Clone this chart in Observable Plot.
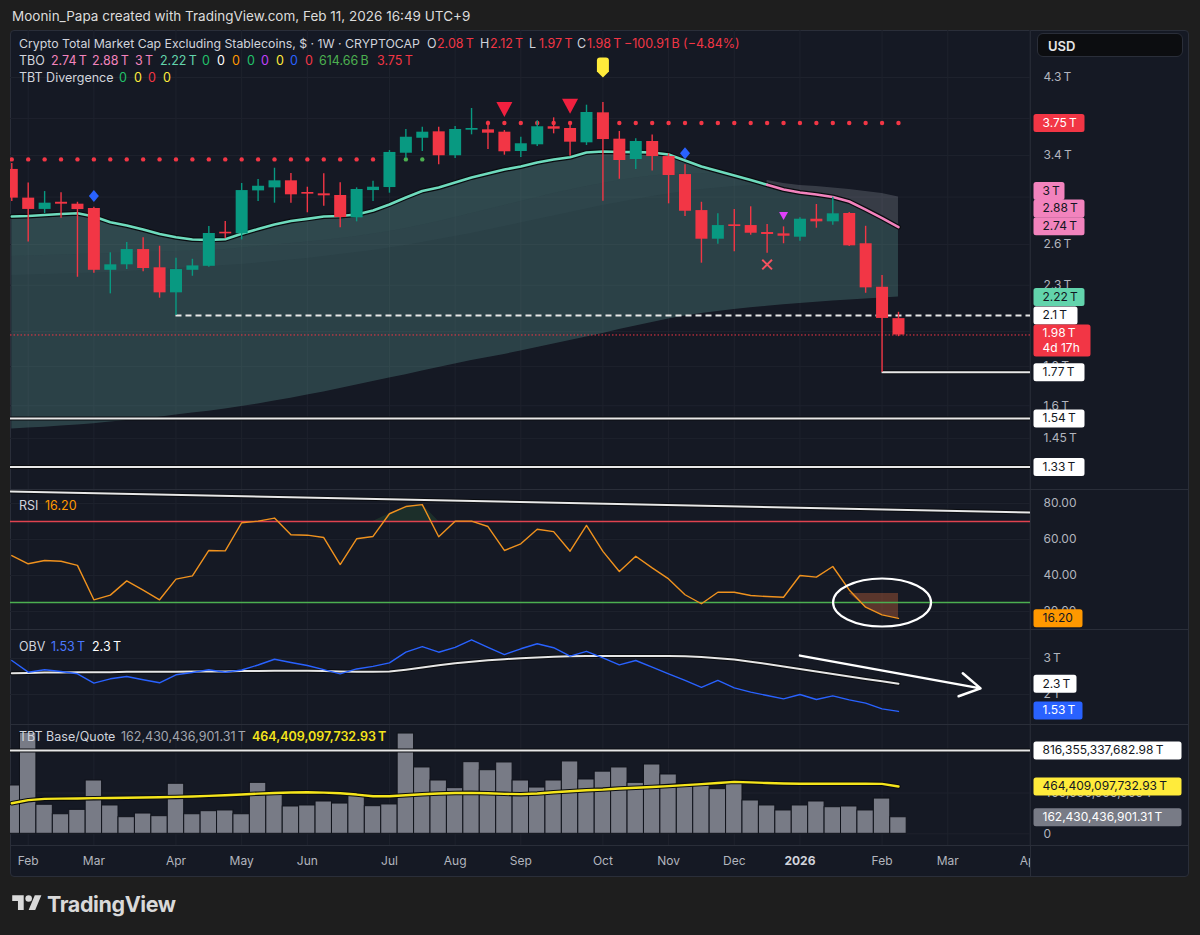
<!DOCTYPE html>
<html>
<head>
<meta charset="utf-8">
<script src="https://cdn.jsdelivr.net/npm/d3@7"></script>
<script src="https://cdn.jsdelivr.net/npm/@observablehq/plot@0.6"></script>
<style>
  html, body { margin:0; padding:0; background:#1e1e1e; }
  #root { position:relative; width:1200px; height:935px; overflow:hidden; font-family: Inter, "Noto Sans", "DejaVu Sans", sans-serif; }
  .abs { position:absolute; white-space:nowrap; }
</style>
</head>
<body>
<div id="root">
  <div class="abs" style="left:12px;top:8px;line-height:16px;font-size:13.5px;color:#dcdcdc;">Moonin_Papa created with TradingView.com, Feb 11, 2026 16:49 UTC+9</div>
  <div class="abs" style="left:10px;top:30px;width:1179px;height:847px;background:#151924;border:1px solid #2a2e39;box-sizing:border-box;border-radius:4px;"></div>
  <div class="abs" style="left:11px;top:489px;width:1177px;height:1px;background:#2a2e39;"></div>
  <div class="abs" style="left:11px;top:629px;width:1177px;height:1px;background:#2a2e39;"></div>
  <div class="abs" style="left:11px;top:724px;width:1177px;height:1px;background:#2a2e39;"></div>
  <div class="abs" style="left:11px;top:845px;width:1177px;height:1px;background:#2a2e39;"></div>
  <div class="abs" style="left:1030px;top:31px;width:1px;height:845px;background:#2a2e39;"></div>
</div>
<script>
// ---------------- DATA ----------------
const weeks = ["2025-01-27","2025-02-03","2025-02-10","2025-02-17","2025-02-24","2025-03-03","2025-03-10","2025-03-17","2025-03-24","2025-03-31","2025-04-07","2025-04-14","2025-04-21","2025-04-28","2025-05-05","2025-05-12","2025-05-19","2025-05-26","2025-06-02","2025-06-09","2025-06-16","2025-06-23","2025-06-30","2025-07-07","2025-07-14","2025-07-21","2025-07-28","2025-08-04","2025-08-11","2025-08-18","2025-08-25","2025-09-01","2025-09-08","2025-09-15","2025-09-22","2025-09-29","2025-10-06","2025-10-13","2025-10-20","2025-10-27","2025-11-03","2025-11-10","2025-11-17","2025-11-24","2025-12-01","2025-12-08","2025-12-15","2025-12-22","2025-12-29","2026-01-05","2026-01-12","2026-01-19","2026-01-26","2026-02-02","2026-02-09"];
// OHLC in trillions USD
const open  = [3.26,2.99,2.89,2.953,2.936,2.898,2.406,2.446,2.561,2.424,2.248,2.406,2.435,2.698,2.685,3.056,3.084,3.150,3.041,3.029,3.014,2.818,3.059,3.087,3.423,3.581,3.651,3.397,3.669,3.673,3.647,3.441,3.511,3.707,3.688,3.532,3.866,3.571,3.359,3.546,3.389,3.210,2.880,2.642,2.759,2.753,2.696,2.685,2.658,2.806,2.784,2.855,2.606,2.286,2.08];
const high  = [3.32,3.13,3.05,3.04,2.953,2.909,2.536,2.616,2.653,2.587,2.495,2.487,2.745,2.787,3.125,3.163,3.272,3.220,3.090,3.217,3.131,3.084,3.146,3.451,3.677,3.702,3.702,3.710,3.917,3.770,3.665,3.592,3.774,3.808,3.755,3.956,3.988,3.655,3.575,3.616,3.417,3.306,2.953,2.852,2.889,2.913,2.762,2.742,2.818,2.933,2.998,2.863,2.747,2.368,2.12];
const low   = [2.96,2.62,2.855,2.814,2.356,2.385,2.241,2.411,2.395,2.212,2.10,2.363,2.428,2.645,2.637,2.960,2.945,2.945,2.861,2.918,2.734,2.784,2.960,3.035,3.372,3.441,3.306,3.369,3.618,3.462,3.403,3.379,3.493,3.629,3.392,3.504,2.962,3.165,3.259,3.244,2.939,2.829,2.458,2.602,2.544,2.674,2.533,2.606,2.626,2.731,2.756,2.585,2.245,1.77,1.97];
const close = [2.99,2.89,2.945,2.936,2.889,2.406,2.446,2.561,2.419,2.248,2.411,2.438,2.688,2.685,3.059,3.099,3.150,3.020,3.026,3.011,2.820,3.069,3.090,3.431,3.592,3.647,3.397,3.677,3.688,3.636,3.438,3.522,3.707,3.680,3.539,3.870,3.567,3.349,3.546,3.389,3.201,2.874,2.642,2.753,2.745,2.690,2.680,2.666,2.806,2.784,2.852,2.590,2.282,2.081,1.98];
// TBO bands (trillions)
const tboFast = [2.829,2.833,2.842,2.850,2.857,2.829,2.781,2.753,2.720,2.684,2.658,2.640,2.637,2.642,2.685,2.724,2.762,2.791,2.809,2.829,2.833,2.846,2.880,2.933,2.996,3.055,3.087,3.134,3.182,3.220,3.259,3.289,3.329,3.359,3.382,3.431,3.441,3.436,3.434,3.431,3.410,3.349,3.289,3.245,3.201,3.158,3.112,3.069,3.041,3.023,3.000,2.960,2.889,2.816,2.74];
const tboMid  = [2.508,2.511,2.515,2.519,2.523,2.527,2.530,2.534,2.538,2.542,2.546,2.550,2.554,2.561,2.573,2.584,2.596,2.608,2.620,2.632,2.648,2.664,2.684,2.704,2.729,2.757,2.786,2.820,2.855,2.889,2.924,2.960,2.996,3.032,3.064,3.097,3.125,3.153,3.177,3.196,3.210,3.220,3.220,3.210,3.196,3.177,3.153,3.125,3.097,3.069,3.041,3.014,2.978,2.933,2.88];
const tboSlow = [2.368,2.372,2.375,2.379,2.382,2.386,2.390,2.397,2.404,2.411,2.419,2.426,2.433,2.441,2.448,2.459,2.470,2.481,2.493,2.508,2.523,2.538,2.554,2.573,2.592,2.616,2.640,2.664,2.688,2.716,2.745,2.774,2.803,2.833,2.863,2.894,2.924,2.951,2.978,3.005,3.027,3.050,3.069,3.083,3.097,3.106,3.111,3.111,3.106,3.097,3.083,3.069,3.050,3.032,3.00];
const tboBase = [1.492,1.496,1.500,1.505,1.510,1.516,1.523,1.530,1.537,1.546,1.556,1.565,1.574,1.584,1.596,1.608,1.623,1.637,1.652,1.667,1.685,1.703,1.721,1.739,1.757,1.776,1.795,1.814,1.833,1.850,1.867,1.887,1.907,1.927,1.948,1.968,1.989,2.013,2.034,2.056,2.077,2.096,2.112,2.125,2.138,2.149,2.159,2.168,2.177,2.185,2.193,2.200,2.207,2.214,2.22];
// RSI
const rsi = [51.1,46.5,48.3,47.9,45.6,26.5,29.1,37.0,31.9,26.5,38.0,39.8,53.9,53.7,69.3,70.2,71.9,62.6,62.4,61.1,46.1,60.4,61.7,74.3,78.3,79.4,61.5,70.2,70.2,67.2,53.9,57.6,65.7,64.4,53.5,67.8,53.4,42.2,50.7,44.2,38.1,29.3,24.3,30.7,30.7,28.9,28.3,27.9,40.0,39.1,45.0,32.0,22.4,18.1,16.2];
// OBV (trillions) and its moving average
const obv   = [2.944,2.62,2.686,2.64,2.575,2.315,2.436,2.50,2.41,2.325,2.547,2.61,2.686,2.62,2.68,2.82,2.98,2.89,2.805,2.69,2.575,2.71,2.78,2.88,3.175,3.33,3.175,3.31,3.52,3.31,3.11,3.27,3.41,3.30,3.065,3.20,3.02,2.825,2.944,2.76,2.575,2.39,2.20,2.39,2.186,2.065,1.972,1.88,2.0,1.86,1.963,1.85,1.76,1.60,1.53];
const obvMA = [2.59,2.60,2.61,2.61,2.62,2.62,2.62,2.63,2.63,2.63,2.63,2.64,2.64,2.64,2.65,2.65,2.66,2.66,2.66,2.65,2.64,2.63,2.63,2.64,2.69,2.75,2.81,2.87,2.91,2.95,2.98,3.01,3.03,3.05,3.06,3.07,3.07,3.07,3.07,3.07,3.07,3.06,3.04,3.01,2.97,2.91,2.85,2.78,2.71,2.64,2.57,2.50,2.43,2.37,2.30];
// TBT Base/Quote volume, in billions of T, and its moving average
const vol   = [474,991,285,192,235,523,278,163,199,173,491,192,222,229,192,500,392,268,278,317,297,376,271,288,984,651,523,448,703,624,700,523,454,523,710,533,610,651,500,680,582,487,491,438,494,327,278,229,278,317,261,268,229,346,162.43043690131];
const volMA = [300,330,343,345,347,350,352,354,356,359,362,366,372,378,386,394,400,405,408,404,398,385,368,368,378,388,395,400,402,398,392,389,396,408,418,428,434,444,452,460,468,478,488,498,510,505,498,493,491,491,491,491,491,490,464.40909773293];
const volRefLine = 816.35533768298;
// axis ticks (grid) and the tick labels that show
const monthTicks = [["2025-02-03","Feb"],["2025-03-03","Mar"],["2025-04-07","Apr"],["2025-05-05","May"],["2025-06-02","Jun"],["2025-07-07","Jul"],["2025-08-04","Aug"],["2025-09-01","Sep"],["2025-10-06","Oct"],["2025-11-03","Nov"],["2025-12-01","Dec"],["2025-12-29","2026"],["2026-02-02","Feb"],["2026-03-02","Mar"],["2026-04-06","Apr"]];
const priceGrid = [4.3,3.8,3.4,3,2.6,2.3,2,1.8,1.6,1.45];
const priceTickLabels = [4.3,3.4,2.6,2.3,1.8,1.6,1.45];
const rsiTicks = [80,60,40,20];
const obvTicks = [3,2];
const volGrid = [0,400,800];
const volTickLabels = [0,400];
// levels & annotations
const tboUpper = {v:3.75, from:"2025-08-18", to:"2026-02-09"};
const tboLower = {v:3.36, from:"2025-01-27", to:"2025-07-21"};
const lowLevel = {v:2.10, from:"2025-04-07"};
const wickLevel = {v:1.77, from:"2026-02-02"};
const supports = [1.54, 1.33];
const lastPrice = 1.98;
const diamonds = [["2025-03-03",3.01],["2025-11-10",3.423]];
const sellTris = [["2025-08-25",3.905],["2025-09-22",3.944]];
const topPin = [["2025-10-06",4.43]];
const purpleTri = [["2025-12-22",2.833]];
const crossMarks = [["2025-12-15",2.448]];
const rsiTrend = [{from:["2025-01-20",86.8], to:["2026-04-13",74.8]}];
const rsiCircle = [["2026-02-02",25]];
const obvArrow = [{from:["2025-12-29",3.08], to:["2026-03-16",2.17]}];

// ---------------- SETUP ----------------
const FONT = 'Inter, "Noto Sans", sans-serif';
const GREEN="#089981", RED="#f23645", GRID="#1e222d", AX="#b2b5be", DARK="#131722";
const PINK="#f283bd", TEAL="#6edbbd";
const T0 = Date.parse("2025-02-03T00:00:00Z");
const wk = s => Math.round((Date.parse(s+"T00:00:00Z") - T0) / 6048e5);
const I = weeks.map(wk);
const bars = weeks.map((w,k)=>({i:I[k], o:open[k], h:high[k], l:low[k], c:close[k]}));
const tbo = weeks.map((w,k)=>({i:I[k], fast:tboFast[k], mid:tboMid[k], slow:tboSlow[k], base:tboBase[k]}));
const rsiData = weeks.map((w,k)=>({i:I[k], v:rsi[k]}));
const obvData = weeks.map((w,k)=>({i:I[k], v:obv[k], ma:obvMA[k]}));
const volData = weeks.map((w,k)=>({i:I[k], v:vol[k], ma:volMA[k]}));
const monthIdx = monthTicks.map(d=>wk(d[0]));
const pts = arr => arr.map(([d,v])=>({i:wk(d), v}));
const col = d => d.c >= d.o ? GREEN : RED;
const dotsFor = lvl => bars.filter(b=>b.i>=wk(lvl.from) && b.i<=wk(lvl.to)).map(b=>({i:b.i, v:lvl.v, up:b.c>lvl.v}));

const xDomain = [-1.078, 61.04];
const W = 1177, MR = 157;
function base(h){ return {width:W, height:h, marginLeft:0, marginRight:MR, marginTop:0, marginBottom:0,
  style:{background:"transparent", fontFamily:FONT, fontSize:"12px", color:AX, overflow:"visible"},
  x:{domain:xDomain, axis:null}}; }

const sym = draw => ({draw});
const boxSym = (w,h,r=2.5) => sym(ctx=>{ const t=-h/2,b=h/2;
  ctx.moveTo(r,t); ctx.lineTo(w-r,t); ctx.arcTo(w,t,w,t+r,r); ctx.lineTo(w,b-r); ctx.arcTo(w,b,w-r,b,r);
  ctx.lineTo(r,b); ctx.arcTo(0,b,0,b-r,r); ctx.lineTo(0,t+r); ctx.arcTo(0,t,r,t,r); ctx.closePath(); });
const triDown = (w,h) => sym(ctx=>{ ctx.moveTo(-w/2,-h/2); ctx.lineTo(w/2,-h/2); ctx.lineTo(0,h/2); ctx.closePath(); });
const diamondSym = (w,h) => sym(ctx=>{ ctx.moveTo(0,-h/2); ctx.lineTo(w/2,0); ctx.lineTo(0,h/2); ctx.lineTo(-w/2,0); ctx.closePath(); });
const pinSym = sym(ctx=>{ ctx.moveTo(-6,-7); ctx.arcTo(-6,-10,-3,-10,3); ctx.lineTo(3,-10); ctx.arcTo(6,-10,6,-7,3); ctx.lineTo(6,4); ctx.lineTo(0,10); ctx.lineTo(-6,4); ctx.closePath(); });
const ellipseSym = (rx,ry) => sym(ctx=>{ const k=0.5523; ctx.moveTo(rx,0);
  ctx.bezierCurveTo(rx,ry*k,rx*k,ry,0,ry); ctx.bezierCurveTo(-rx*k,ry,-rx,ry*k,-rx,0);
  ctx.bezierCurveTo(-rx,-ry*k,-rx*k,-ry,0,-ry); ctx.bezierCurveTo(rx*k,-ry,rx,-ry*k,rx,0); ctx.closePath(); });

function tag(v, text, bg, fg, w, dy=0, h=18){
  return [
    Plot.dot([v], {y:d=>d, frameAnchor:"right", dx:3, dy, r:4, symbol:boxSym(w,h), fill:bg, stroke:"none"}),
    Plot.text([v], {y:d=>d, frameAnchor:"right", dx:12, dy, text:()=>text, textAnchor:"start", fill:fg, fontSize:12})
  ];
}
function tickText(ticks, fmt){
  return Plot.text(ticks, {y:d=>d, frameAnchor:"right", dx:13, text:fmt, textAnchor:"start", fill:AX, fontSize:12});
}
const fT = v => `${+v.toFixed(2)}\u2009T`;
const fBig = v => d3.format(",.2f")(v*1e9) + "\u2009T";

// ---------------- PRICE PANE ----------------
const up = dotsFor(tboUpper), lo = dotsFor(tboLower);
const price = Plot.plot({...base(459),
  y:{type:"log", domain:[1.2432, 4.954], axis:null},
  marks:[
    Plot.ruleY(priceGrid, {stroke:GRID}),
    Plot.ruleX(monthIdx, {stroke:GRID}),
    Plot.areaY(tbo, {x:"i", y1:"base", y2:"fast", fill:"#5f9e98", fillOpacity:0.30, clip:true}),
    Plot.areaY(tbo, {x:"i", y1:d=>Math.min(d.mid,d.fast), y2:"fast", fill:"#8fd3c6", fillOpacity:0.05, clip:true}),
    Plot.areaY(tbo, {x:"i", y1:d=>Math.min(d.slow,d.fast), y2:d=>Math.min(d.mid,d.fast), fill:"#8fd3c6", fillOpacity:0.035, clip:true}),
    Plot.areaY(tbo.filter(d=>d.i>=45), {x:"i", y1:"fast", y2:d=>Math.max(d.slow,d.mid), fill:"#c3c9d1", fillOpacity:0.2}),
    Plot.line(tbo, {x:"i", y:"fast", stroke:"#0a0c10", strokeWidth:5, clip:true}),
    Plot.line(tbo.filter(d=>d.i<=45), {x:"i", y:"fast", stroke:TEAL, strokeWidth:2.6, clip:true}),
    Plot.line(tbo.filter(d=>d.i>=45), {x:"i", y:"fast", stroke:PINK, strokeWidth:2.6}),
    // levels
    Plot.ruleY([lastPrice], {y:d=>d, stroke:RED, strokeWidth:1, strokeDasharray:"1.5,2"}),
    Plot.ruleY(supports, {y:d=>d, stroke:"#0a0c10", strokeWidth:4}),
    Plot.ruleY(supports, {y:d=>d, stroke:"#e8e8e8", strokeWidth:2}),
    Plot.ruleY([wickLevel], {y:"v", x1:d=>wk(d.from), x2:()=>xDomain[1], stroke:"#0a0c10", strokeWidth:4}),
    Plot.ruleY([wickLevel], {y:"v", x1:d=>wk(d.from), x2:()=>xDomain[1], stroke:"#e8e8e8", strokeWidth:2}),
    Plot.ruleY([lowLevel], {y:"v", x1:d=>wk(d.from), x2:()=>xDomain[1], stroke:"#e8e8e8", strokeWidth:2, strokeDasharray:"6,4"}),
    // TBO dots
    Plot.dot(lo, {x:"i", y:"v", r:2.2, fill:d=>d.up?"#4caf50":RED, stroke:"none", clip:true}),
    Plot.dot(up, {x:"i", y:"v", r:2.2, fill:d=>d.up?"#4caf50":RED, stroke:"none"}),
    // candles
    Plot.ruleX(bars, {x:"i", y1:"l", y2:"h", stroke:col, strokeWidth:1.4, clip:true}),
    Plot.ruleX(bars, {x:"i", y1:"o", y2:"c", stroke:col, strokeWidth:12, clip:true}),
    // signals
    Plot.dot(pts(diamonds), {x:"i", y:"v", r:4, symbol:diamondSym(10,12), fill:"#2962ff", stroke:"none"}),
    Plot.dot(pts(sellTris), {x:"i", y:"v", r:4, symbol:triDown(16,15), fill:"#f0203f", stroke:"none"}),
    Plot.dot(pts(topPin), {x:"i", y:"v", r:4, symbol:pinSym, fill:"#ffeb3b", stroke:"none"}),
    Plot.dot(pts(purpleTri), {x:"i", y:"v", r:4, symbol:triDown(9,8), fill:"#e040fb", stroke:"none"}),
    Plot.dot(pts(crossMarks), {x:"i", y:"v", r:4.5, symbol:"times", stroke:"#f7525f", strokeWidth:2}),
    // right axis
    tickText(priceTickLabels, fT),
    ...tag(tboUpper.v, fT(tboUpper.v), RED, "#ffffff", 51),
    ...tag(tboSlow[54], fT(tboSlow[54]), PINK, DARK, 31, -6),
    ...tag(tboMid[54], fT(tboMid[54]), PINK, DARK, 51, -2),
    ...tag(tboFast[54], fT(tboFast[54]), PINK, DARK, 51, -1),
    ...tag(tboBase[54], fT(tboBase[54]), "#62d4ac", DARK, 51, 0),
    ...tag(lowLevel.v, fT(lowLevel.v), "#ffffff", DARK, 44, 0),
    Plot.dot([lastPrice], {y:d=>d, frameAnchor:"right", dx:3, dy:5.5, r:4, symbol:boxSym(57,32), fill:RED, stroke:"none"}),
    Plot.text([lastPrice], {y:d=>d, frameAnchor:"right", dx:12, dy:-1.5, text:d=>fT(d), textAnchor:"start", fill:"#fff", fontSize:12}),
    Plot.text([lastPrice], {y:d=>d, frameAnchor:"right", dx:12, dy:13.5, text:()=>"4d 17h", textAnchor:"start", fill:"#fff", fontSize:12}),
    ...tag(wickLevel.v, fT(wickLevel.v), "#ffffff", DARK, 51, 0),
    ...supports.flatMap(s=>tag(s, fT(s), "#ffffff", DARK, 51, 0))
  ]});

// ---------------- RSI PANE ----------------
const rsiPlot = Plot.plot({...base(139),
  y:{domain:[10.0, 87.22], axis:null},
  marks:[
    Plot.ruleY(rsiTicks, {stroke:GRID}),
    Plot.ruleX(monthIdx, {stroke:GRID}),
    Plot.areaY(rsiData.filter(d=>d.i>=21 && d.i<=25), {x:"i", y1:()=>70, y2:d=>Math.max(d.v,70), fill:"#4caf50", fillOpacity:0.15}),
    Plot.areaY(rsiData.filter(d=>d.i>=50), {x:"i", y1:d=>Math.min(d.v,30), y2:()=>30, fill:"#b05a38", fillOpacity:0.45}),
    Plot.ruleY([70], {stroke:"#e0434f", strokeWidth:1.3}),
    Plot.ruleY([25], {stroke:"#4caf50", strokeWidth:1.3}),
    Plot.link(rsiTrend, {x1:d=>wk(d.from[0]), y1:d=>d.from[1], x2:d=>wk(d.to[0]), y2:d=>d.to[1], stroke:"#0a0c10", strokeWidth:4, clip:true}),
    Plot.link(rsiTrend, {x1:d=>wk(d.from[0]), y1:d=>d.from[1], x2:d=>wk(d.to[0]), y2:d=>d.to[1], stroke:"#e8e8e8", strokeWidth:2, clip:true}),
    Plot.line(rsiData, {x:"i", y:"v", stroke:"#f0921e", strokeWidth:1.4, clip:true}),
    Plot.dot(pts(rsiCircle), {x:"i", y:"v", r:5, symbol:ellipseSym(49,24), fill:"none", stroke:"#ffffff", strokeWidth:2.2}),
    tickText(rsiTicks, d=>d.toFixed(2)),
    ...tag(rsi[54], rsi[54].toFixed(2), "#ff9800", DARK, 49, 0)
  ]});

// ---------------- OBV PANE ----------------
const obvPlot = Plot.plot({...base(94),
  y:{domain:[1.1667, 3.778], axis:null},
  marks:[
    Plot.ruleY(obvTicks, {stroke:GRID}),
    Plot.ruleX(monthIdx, {stroke:GRID}),
    Plot.line(obvData, {x:"i", y:"ma", stroke:"#0a0c10", strokeWidth:4, clip:true}),
    Plot.line(obvData, {x:"i", y:"ma", stroke:"#e6e6e6", strokeWidth:2, clip:true}),
    Plot.line(obvData, {x:"i", y:"v", stroke:"#2962ff", strokeWidth:1.4, clip:true}),
    Plot.arrow(obvArrow, {x1:d=>wk(d.from[0]), y1:d=>d.from[1], x2:d=>wk(d.to[0]), y2:d=>d.to[1], stroke:"#ffffff", strokeWidth:2.5, headLength:14, headAngle:60}),
    tickText(obvTicks, fT),
    ...tag(obvMA[54], fT(obvMA[54]), "#ffffff", DARK, 43, 0),
    ...tag(obv[54], fT(obv[54]), "#2962ff", "#ffffff", 49, -1)
  ]});

// ---------------- VOLUME PANE ----------------
const volPlot = Plot.plot({...base(120),
  y:{domain:[-114.8, 1062.8], axis:null},
  marks:[
    Plot.ruleY(volGrid, {stroke:GRID}),
    Plot.ruleX(monthIdx, {stroke:GRID}),
    Plot.rect(volData, {x1:d=>d.i-0.5, x2:d=>d.i+0.5, y1:()=>0, y2:"v", fill:"#787b86", stroke:"#10131b", strokeWidth:1, clip:true}),
    Plot.ruleY([volRefLine], {y:d=>d, stroke:"#0a0c10", strokeWidth:4}),
    Plot.ruleY([volRefLine], {y:d=>d, stroke:"#e8e8e8", strokeWidth:2}),
    Plot.line(volData, {x:"i", y:"ma", stroke:"#0a0c10", strokeWidth:4.5, clip:true}),
    Plot.line(volData, {x:"i", y:"ma", stroke:"#f5e51b", strokeWidth:2.4, clip:true}),
    tickText(volTickLabels, d=> d===0 ? "0" : d3.format(",")(d*1e9)+"\u2009T"),
    ...tag(volRefLine, fBig(volRefLine), "#ffffff", DARK, 148, 0),
    ...tag(volMA[54], fBig(volMA[54]), "#ffeb3b", DARK, 148, 0),
    ...tag(vol[54], fBig(vol[54]), "#787b86", "#ffffff", 148, 0)
  ]});

// ---------------- TIME AXIS ----------------
const axisPlot = Plot.plot({...base(31),
  marks:[
    Plot.text(monthTicks.filter(d=>d[1]!=="2026"), {x:d=>wk(d[0]), text:d=>d[1], frameAnchor:"middle", fill:AX, fontSize:12, clip:true}),
    Plot.text(monthTicks.filter(d=>d[1]==="2026"), {x:d=>wk(d[0]), text:d=>d[1], frameAnchor:"middle", fill:"#d1d4dc", fontSize:12, fontWeight:"bold", clip:true})
  ]});

// ---------------- PLACE ----------------
const root = document.getElementById("root");
function place(el, top){ const d=document.createElement("div"); d.className="abs"; d.style.left="10px"; d.style.top=top+"px"; d.appendChild(el); root.appendChild(d); }
place(price, 30); place(rsiPlot, 490); place(obvPlot, 630); place(volPlot, 725); place(axisPlot, 845);

function txt(x, yc, s, color="#d1d4dc", size=12.5, weight=400){
  const d=document.createElement("div"); d.className="abs";
  Object.assign(d.style,{left:x+"px", top:(yc-8)+"px", lineHeight:"16px", fontSize:size+"px", color, fontWeight:weight});
  d.textContent=s; root.appendChild(d); return d;
}
const L = 54;
// main legend
const title = txt(19,44,"Crypto Total Market Cap Excluding Stablecoins, $ · 1W · CRYPTOCAP");
title.style.fontSize = "12.3px";
[["O",open[L],427],["H",high[L],480],["L",low[L],529],["C",close[L],577]].forEach(([k,v,x])=>{
  txt(x,44,k); txt(x+10,44,fT(v),RED);
});
txt(624,44,"\u2212100.91\u2009B (\u22124.84%)",RED);
txt(19,61,"TBO");
txt(51,61,fT(tboFast[L]),PINK); txt(92,61,fT(tboMid[L]),PINK); txt(135,61,fT(tboSlow[L]),PINK); txt(160,61,fT(tboBase[L]),"#62d4ac");
[["#22c26a",202],["#ffffff",217],["#ff9800",232],["#22c26a",247],["#c040fb",261],["#ffeb3b",276],["#2962ff",290],["#f23645",305]].forEach(([c,x])=>txt(x,61,"0",c));
txt(319,61,"614.66\u2009B","#4caf50"); txt(377,61,fT(tboUpper.v),RED);
txt(19,78,"TBT Divergence");
[["#22c26a",119],["#ffeb3b",134],["#f23645",148],["#ffeb3b",163]].forEach(([c,x])=>txt(x,78,"0",c));
// pane legends
txt(19,506,"RSI"); txt(45,506,rsi[L].toFixed(2),"#ff9800");
txt(19,647,"OBV"); txt(51,647,fT(obv[L]),"#4a78ff"); txt(92,647,fT(obvMA[L]),"#ffffff");
txt(19,737,"TBT Base/Quote"); txt(121,737,fBig(vol[L]),"#a3a6af"); txt(252,737,fBig(volMA[L]),"#f5e51b",12.5,600);
// USD box
const usd = txt(1037,45,"USD","#e6e6e6",13,600);
Object.assign(usd.style,{top:"33px",width:"146px",height:"24px",lineHeight:"24px",paddingLeft:"10px",boxSizing:"border-box",background:"#0c0d10",border:"1px solid #2a2e39",borderRadius:"6px"});
// footer
const logo = document.createElementNS("http://www.w3.org/2000/svg","svg");
logo.setAttribute("width","30"); logo.setAttribute("height","23"); logo.setAttribute("viewBox","0 0 36 28");
logo.setAttribute("class","abs"); logo.style.left="12px"; logo.style.top="892px";
logo.innerHTML='<path fill="#d9d9d9" d="M14 22H7V11H0V4h14v18zM28 22h-8l7.5-18h8L28 22z"/><circle fill="#d9d9d9" cx="20" cy="8" r="4"/>';
root.appendChild(logo);
const tv = txt(47,904,"TradingView","#d9d9d9",21.5,700); tv.style.letterSpacing="-0.4px"; tv.style.lineHeight="16px";
</script>
</body>
</html>
